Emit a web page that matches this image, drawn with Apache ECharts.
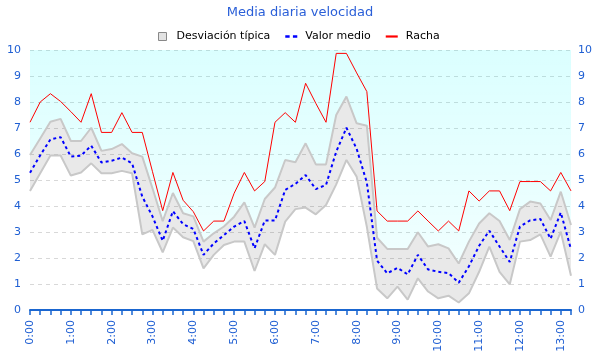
<!DOCTYPE html>
<html><head><meta charset="utf-8">
<script src="https://cdn.jsdelivr.net/npm/echarts@6/dist/echarts.min.js"></script>
<style>html,body{margin:0;padding:0;background:#fff}#c{width:600px;height:360px}</style>
</head><body><div id="c"></div>
<script>
const categories = ["0:00","0:15","0:30","0:45","1:00","1:15","1:30","1:45","2:00","2:15","2:30","2:45",
  "3:00","3:15","3:30","3:45","4:00","4:15","4:30","4:45","5:00","5:15","5:30","5:45",
  "6:00","6:15","6:30","6:45","7:00","7:15","7:30","7:45","8:00","8:15","8:30","8:45",
  "9:00","9:15","9:30","9:45","10:00","10:15","10:30","10:45","11:00","11:15","11:30","11:45",
  "12:00","12:15","12:30","12:45","13:00","13:15"];
const racha = [7.22, 8.0, 8.32, 8.02, 7.63, 7.22, 8.32, 6.83, 6.83, 7.59, 6.83, 6.83, 5.32, 3.82,
  5.29, 4.22, 3.78, 3.04, 3.42, 3.42, 4.49, 5.29, 4.58, 4.94, 7.22, 7.59, 7.22,
  8.72, 7.95, 7.22, 9.87, 9.87, 9.12, 8.4, 3.81, 3.42, 3.42, 3.42, 3.81, 3.42,
  3.04, 3.42, 3.04, 4.58, 4.19, 4.58, 4.58, 3.82, 4.94, 4.94, 4.94, 4.58, 5.29, 4.58];
const valorMedio = [5.28, 5.95, 6.56, 6.65, 5.9, 5.94, 6.32, 5.67, 5.74, 5.86, 5.64, 4.36, 3.6, 2.66,
  3.8, 3.3, 3.12, 2.12, 2.56, 2.88, 3.21, 3.42, 2.37, 3.44, 3.44, 4.62, 4.85,
  5.19, 4.65, 4.81, 6.09, 7.01, 6.2, 4.9, 1.9, 1.41, 1.62, 1.37, 2.12, 1.56,
  1.47, 1.42, 1.05, 1.68, 2.47, 3.05, 2.44, 1.85, 3.21, 3.45, 3.5, 2.74, 3.75, 2.33];
const desvSup = [5.96, 6.6, 7.24, 7.35, 6.5, 6.5, 7.01, 6.12, 6.19, 6.38, 6.03, 5.9, 4.68, 3.42,
  4.5, 3.72, 3.6, 2.63, 2.95, 3.21, 3.59, 4.14, 3.17, 4.27, 4.71, 5.77, 5.68,
  6.41, 5.6, 5.6, 7.5, 8.21, 7.18, 7.09, 2.78, 2.35, 2.35, 2.35, 2.99, 2.44,
  2.53, 2.37, 1.79, 2.63, 3.33, 3.72, 3.42, 2.69, 3.88, 4.17, 4.1, 3.46, 4.55, 3.27];
const desvInf = [4.58, 5.26, 5.94, 5.94, 5.17, 5.29, 5.64, 5.26, 5.26, 5.35, 5.26, 2.91, 3.08, 2.22,
  3.17, 2.8, 2.65, 1.6, 2.12, 2.5, 2.63, 2.63, 1.5, 2.53, 2.12, 3.4, 3.88,
  3.94, 3.68, 4.04, 4.83, 5.77, 5.13, 3.2, 0.83, 0.45, 0.9, 0.4, 1.22, 0.71,
  0.45, 0.55, 0.29, 0.64, 1.47, 2.44, 1.47, 0.99, 2.63, 2.69, 2.91, 2.05, 3.01, 1.32];
const yMin = 0, yMax = 10, yStep = 1;

const blueTxt = '#1f5fd3';
const bandWidth = desvSup.map((v, i) => +(v - desvInf[i]).toFixed(3));
const topFill = desvSup.map(v => +(yMax - v).toFixed(3));

const chart = echarts.init(document.getElementById('c'), null, {renderer: 'canvas'});
chart.setOption({
  animation: false,
  textStyle: {fontFamily: 'DejaVu Sans'},
  title: {
    text: 'Media diaria velocidad', left: 'center', top: 1,
    textStyle: {color: '#2a5fd8', fontSize: 13, fontWeight: 'normal', fontFamily: 'DejaVu Sans'}
  },
  legend: {
    top: 26, left: 153, itemGap: 15, itemWidth: 12, itemHeight: 8,
    textStyle: {color: '#000', fontSize: 11, fontFamily: 'DejaVu Sans', padding: [0, 0, 0, 3]},
    data: [
      {name: 'Desviación típica', icon: 'path://M0,0H10V10H0Z',
       itemStyle: {color: '#e2e2e2', borderColor: '#888', borderWidth: 1}},
      {name: 'Valor medio', icon: 'path://M0,0H4V2.2H0Z M7,0H11V2.2H7Z'},
      {name: 'Racha', icon: 'path://M0,0H11V2H0Z'}
    ]
  },
  grid: {left: 30, right: 29, top: 50, bottom: 50},
  xAxis: {
    type: 'category', data: categories, boundaryGap: false,
    axisLine: {lineStyle: {color: '#1a66d0', width: 2}},
    axisTick: {interval: 0, length: 5, lineStyle: {color: '#1a66d0', width: 1.5}},
    axisLabel: {interval: 3, rotate: 90, color: blueTxt, fontSize: 11, margin: 10, fontFamily: 'DejaVu Sans'},
    splitLine: {show: false}
  },
  yAxis: [
    {type: 'value', min: yMin, max: yMax, interval: yStep, position: 'left',
     axisLine: {show: false}, axisTick: {show: false},
     axisLabel: {color: blueTxt, fontSize: 11, margin: 9, fontFamily: 'DejaVu Sans'},
     splitLine: {lineStyle: {type: [4, 4], color: '#d8d8d8', width: 1}}},
    {type: 'value', min: yMin, max: yMax, interval: yStep, position: 'right',
     axisLine: {show: false}, axisTick: {show: false},
     axisLabel: {color: blueTxt, fontSize: 11, margin: 7, fontFamily: 'DejaVu Sans'},
     splitLine: {show: false}}
  ],
  series: [
    {name: 'inf', type: 'line', stack: 'band', data: desvInf, symbol: 'none', z: 2, silent: true,
     lineStyle: {color: '#c8c8c8', width: 2}},
    {name: 'Desviación típica', type: 'line', stack: 'band', data: bandWidth, symbol: 'none', z: 2, silent: true,
     lineStyle: {color: '#c8c8c8', width: 2}, itemStyle: {color: '#e2e2e2'},
     areaStyle: {color: 'rgba(0,0,0,0.085)', opacity: 1}},
    {name: 'fondo', type: 'line', stack: 'band', data: topFill, symbol: 'none', z: 1, silent: true,
     lineStyle: {width: 0},
     areaStyle: {opacity: 1, color: {type: 'linear', x: 0, y: 50, x2: 0, y2: 310, global: true,
       colorStops: [{offset: 0, color: 'rgba(0,255,255,0.14)'}, {offset: 1, color: 'rgba(0,255,255,0.04)'}]}}},
    {name: 'Valor medio', type: 'line', data: valorMedio, symbol: 'none', z: 3,
     itemStyle: {color: '#0000ff'},
     lineStyle: {color: '#0000ff', width: 2, type: [3, 3]}},
    {name: 'Racha', type: 'line', data: racha, symbol: 'none', z: 4,
     itemStyle: {color: '#ff0000'},
     lineStyle: {color: '#ff0000', width: 1}}
  ]
});
</script>
</body></html>
